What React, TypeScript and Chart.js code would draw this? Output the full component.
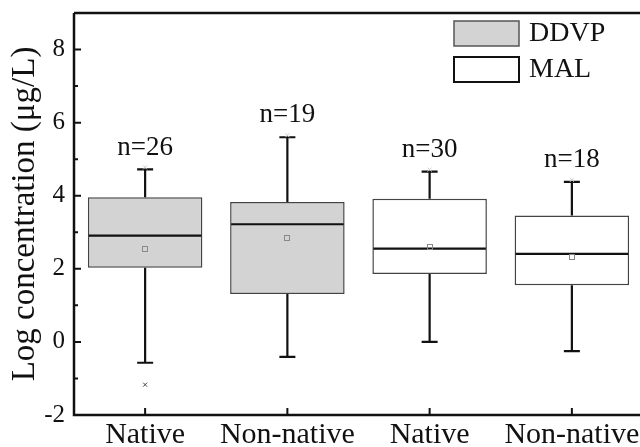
import React, { useEffect, useRef } from 'react';
import { Chart, registerables } from 'chart.js';

Chart.register(...registerables);

const categories = ['Native', 'Non-native', 'Native', 'Non-native'];
const groups = ['DDVP', 'DDVP', 'MAL', 'MAL'];
const seriesNames = ['DDVP', 'MAL'];
const seriesFill = ['#d3d3d3', '#ffffff'];
const mins = [-0.57, -0.41, 0.0, -0.25];
const q1s = [2.03, 1.31, 1.86, 1.55];
const medians = [2.91, 3.22, 2.55, 2.41];
const q3s = [3.96, 3.83, 3.92, 3.46];
const maxs = [4.72, 5.6, 4.66, 4.38];
const means = [2.54, 2.83, 2.61, 2.33];
const outliers: number[][] = [[-1.17], [], [], []];
const counts = [26, 19, 30, 18];
const yTickLabels = [-2, 0, 2, 4, 6, 8];

const FONT = '"Liberation Serif", "Times New Roman", serif';

const boxPlugin = {
  id: 'boxExtras',
  afterDatasetsDraw(chart: any) {
    const { ctx, chartArea } = chart;
    const xs = chart.scales.x;
    const ys = chart.scales.y;
    ctx.save();
    categories.forEach((_, i) => {
      const x = xs.getPixelForValue(i);
      const yMax = ys.getPixelForValue(maxs[i]);
      const yMin = ys.getPixelForValue(mins[i]);
      const yQ1 = ys.getPixelForValue(q1s[i]);
      const yQ3 = ys.getPixelForValue(q3s[i]);
      const yMed = ys.getPixelForValue(medians[i]);
      const yMean = ys.getPixelForValue(means[i]);
      const meta = chart.getDatasetMeta(seriesNames.indexOf(groups[i]));
      const bar = meta.data[i];
      const half = bar ? bar.width / 2 : 57;
      ctx.strokeStyle = '#111';
      ctx.lineWidth = 2.2;
      ctx.beginPath();
      ctx.moveTo(x, yQ3);
      ctx.lineTo(x, yMax);
      ctx.moveTo(x - 8, yMax);
      ctx.lineTo(x + 8, yMax);
      ctx.moveTo(x, yQ1);
      ctx.lineTo(x, yMin);
      ctx.moveTo(x - 8, yMin);
      ctx.lineTo(x + 8, yMin);
      ctx.moveTo(x - half + 1, yMed);
      ctx.lineTo(x + half - 1, yMed);
      ctx.stroke();
      // mean marker
      ctx.strokeStyle = '#888';
      ctx.lineWidth = 1;
      ctx.strokeRect(Math.round(x) - 2.5, Math.round(yMean) - 2.5, 5, 5);
      // faint min/max markers
      const drawX = (px: number, py: number, color: string) => {
        ctx.strokeStyle = color;
        ctx.lineWidth = 1;
        ctx.beginPath();
        ctx.moveTo(px - 2, py - 2);
        ctx.lineTo(px + 2, py + 2);
        ctx.moveTo(px + 2, py - 2);
        ctx.lineTo(px - 2, py + 2);
        ctx.stroke();
      };
      drawX(x, yMax - 2, '#ccc');
      outliers[i].forEach((v) => drawX(x, ys.getPixelForValue(v), '#444'));
      // n labels
      ctx.fillStyle = '#111';
      ctx.font = `27px ${FONT}`;
      ctx.textAlign = 'center';
      ctx.textBaseline = 'middle';
      ctx.fillText(`n=${counts[i]}`, x, yMax - 22);
    });

    // frame
    ctx.strokeStyle = '#111';
    ctx.lineWidth = 2.5;
    ctx.beginPath();
    ctx.moveTo(chartArea.left, chartArea.top);
    ctx.lineTo(chartArea.right + 5, chartArea.top);
    ctx.moveTo(chartArea.left, chartArea.top);
    ctx.lineTo(chartArea.left, chartArea.bottom);
    ctx.lineTo(chartArea.right + 5, chartArea.bottom);
    ctx.stroke();

    // inward ticks
    ctx.lineWidth = 2;
    ctx.beginPath();
    ys.ticks.forEach((t: any) => {
      const py = ys.getPixelForValue(t.value);
      const len = yTickLabels.includes(t.value) ? 7 : 4;
      ctx.moveTo(chartArea.left, py);
      ctx.lineTo(chartArea.left + len, py);
    });
    categories.forEach((_, i) => {
      const px = xs.getPixelForValue(i);
      ctx.moveTo(px, chartArea.bottom);
      ctx.lineTo(px, chartArea.bottom - 7);
    });
    ctx.stroke();

    // legend
    const lx = chartArea.right - 189;
    seriesNames.forEach((name, k) => {
      const ly = chartArea.top + 8 + k * 36;
      ctx.fillStyle = seriesFill[k];
      ctx.fillRect(lx, ly, 65, 25);
      ctx.strokeStyle = k === 0 ? '#555' : '#111';
      ctx.lineWidth = k === 0 ? 1.5 : 2;
      ctx.strokeRect(lx, ly, 65, 25);
      ctx.fillStyle = '#111';
      ctx.font = `28px ${FONT}`;
      ctx.textAlign = 'left';
      ctx.textBaseline = 'middle';
      ctx.fillText(name, lx + 75, ly + 13);
    });
    ctx.restore();
  },
};

export default function App() {
  const ref = useRef<HTMLCanvasElement>(null);
  useEffect(() => {
    if (!ref.current) return;
    const chart = new Chart(ref.current, {
      type: 'bar',
      data: {
        labels: categories,
        datasets: seriesNames.map((name, k) => ({
          label: name,
          data: categories.map((_, i) => (groups[i] === name ? [q1s[i], q3s[i]] : null)) as any,
          backgroundColor: seriesFill[k],
          borderColor: '#444',
          borderWidth: 1.5,
          borderSkipped: false,
          grouped: false,
          barPercentage: 1,
          categoryPercentage: 0.805,
        })),
      },
      options: {
        responsive: false,
        animation: false,
        devicePixelRatio: 1,
        layout: { padding: { top: 13, left: 0, right: 0, bottom: 0 } },
        plugins: { legend: { display: false }, tooltip: { enabled: false } },
        scales: {
          x: {
            grid: { display: false, drawTicks: false },
            border: { display: false },
            ticks: {
              color: '#111',
              font: { family: FONT, size: 30 },
              padding: 2,
              maxRotation: 0,
              autoSkip: false,
            },
            afterFit: (s: any) => {
              s.height = 32;
              s.paddingLeft = 0;
              s.paddingRight = 0;
            },
          },
          y: {
            min: -2,
            max: 9,
            grid: { display: false, drawTicks: false },
            border: { display: false },
            ticks: {
              stepSize: 1,
              autoSkip: false,
              color: '#111',
              padding: 9,
              font: { family: FONT, size: 25 },
              callback: (v: any) => (yTickLabels.includes(v) ? String(v) : ''),
            },
            title: {
              display: true,
              text: 'Log concentration (μg/L)',
              color: '#111',
              font: { family: FONT, size: 33 },
              padding: { top: 6, bottom: 0 },
            },
            afterFit: (s: any) => {
              s.width = 74;
              s.paddingTop = 0;
              s.paddingBottom = 0;
            },
          },
        },
      },
      plugins: [boxPlugin],
    });
    return () => chart.destroy();
  }, []);
  return (
    <div style={{ position: 'fixed', left: 0, top: 0, width: 640, height: 447, overflow: 'hidden', background: '#fff' }}>
      <canvas ref={ref} width={643} height={447} style={{ display: 'block' }} />
    </div>
  );
}
